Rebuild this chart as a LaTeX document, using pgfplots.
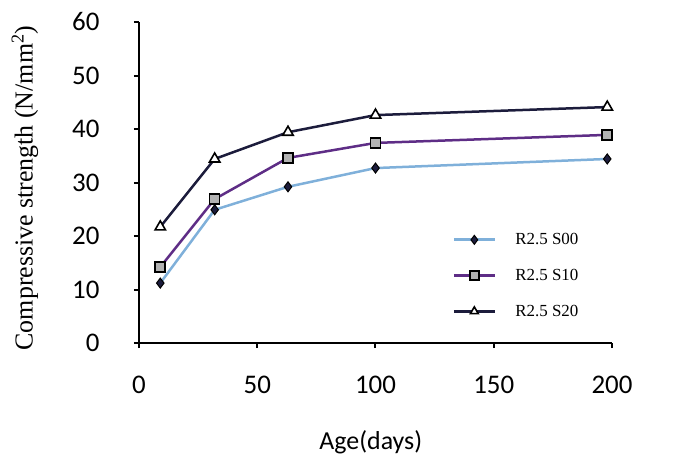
\documentclass[border=0pt]{standalone}
\usepackage{fontspec}
\setmainfont{Carlito}
\newfontfamily\tms{Liberation Serif}
\usepackage{pgfplots}
\pgfplotsset{compat=1.18}
\definecolor{cA}{HTML}{7FB0DA}
\definecolor{cB}{HTML}{5E2D86}
\definecolor{cC}{HTML}{1C1C3C}
\begin{document}
\begin{tikzpicture}
\useasboundingbox (-139bp,-122bp) rectangle (534bp,343bp);
\begin{axis}[at={(0,0)}, anchor=south west, scale only axis,
  width=473bp, height=321bp,
  xmin=0, xmax=200, ymin=0, ymax=60,
  xtick={0,50,...,200}, ytick={0,10,...,60},
  axis lines=left, axis line style={line width=2.8bp,-},
  tick style={line width=2bp,black}, major tick length=5bp, tick align=outside,
  /pgf/number format/assume math mode=true,
  tick label style={font=\fontsize{27}{31}\selectfont},
  yticklabel style={xshift=-31bp},
  xticklabel style={yshift=-25bp},
  xlabel={Age(days)},
  ylabel={Compressive strength (N/mm\textsuperscript{2})},
  xlabel style={at={(axis description cs:0.49,-0.31)}, anchor=center, font=\fontsize{26}{30}\selectfont},
  ylabel style={at={(axis description cs:-0.241,0.483)}, anchor=center, font=\tms\fontsize{26}{30}\selectfont},
  legend style={at={(0.662,0.345)}, anchor=north west, draw=none, fill=none,
    font=\tms\fontsize{17}{20}\selectfont, row sep=21bp, column sep=18bp, inner sep=0pt,
    nodes={inner sep=1bp}},
  legend cell align=left,
  legend image code/.code={\draw[mark repeat=2, mark phase=2, #1, line width=3bp, mark size=4.5bp] plot coordinates {(0bp,0bp)(20.5bp,0bp)(41bp,0bp)};},
]
\addplot[cA, line width=2.5bp, mark=diamond*, mark size=5bp, mark options={fill=cC, draw=black, line width=1bp}]
  coordinates {(9,11.2)(32,24.9)(63,29.2)(100,32.7)(198,34.4)};
\addlegendentry{R2.5 S00}
\addplot[cB, line width=2.5bp, mark=square*, mark size=5bp, mark options={fill=gray!60, draw=black, line width=1.6bp}]
  coordinates {(9,14.2)(32,26.9)(63,34.6)(100,37.4)(198,38.9)};
\addlegendentry{R2.5 S10}
\addplot[cC, line width=2.5bp, mark=triangle*, mark size=6bp, mark options={fill=white, draw=black, line width=1.6bp}]
  coordinates {(9,21.7)(32,34.4)(63,39.4)(100,42.6)(198,44.1)};
\addlegendentry{R2.5 S20}
\end{axis}
\end{tikzpicture}
\end{document}
